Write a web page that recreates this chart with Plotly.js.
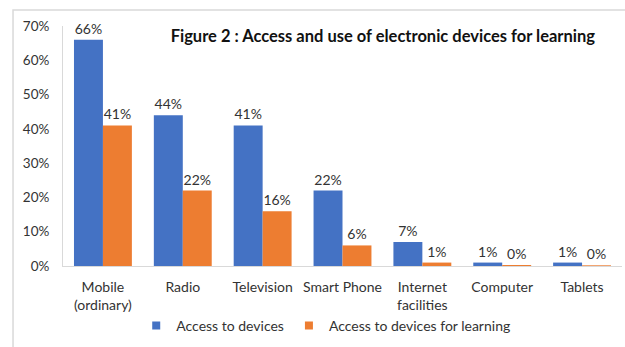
<!DOCTYPE html>
<html>
<head>
<meta charset="utf-8">
<script src="https://cdn.plot.ly/plotly-3.0.1.min.js"></script>
<style>html,body{margin:0;padding:0;background:#fff;}#chart{width:625px;height:347px;}</style>
</head>
<body>
<div id="chart"></div>
<script>
const categories = ["Mobile<br>(ordinary)", "Radio", "Television", "Smart Phone", "Internet<br>facilities", "Computer", "Tablets"];
const accessDevices = [0.66, 0.44, 0.41, 0.22, 0.07, 0.01, 0.01];
const accessLearning = [0.41, 0.22, 0.16, 0.06, 0.01, 0.003, 0.002];
const learningLabels = ["41%", "22%", "16%", "6%", "1%", "0%", "0%"];
const seriesNames = ["Access to devices", "Access to devices for learning"];
const seriesColors = ["#4472C4", "#ED7D31"];
const titleText = "Figure 2 : Access and use of electronic devices for learning";

const fontFam = "Lato, 'Open Sans', sans-serif";
const txtColor = "#333333";

const traces = [
  {
    type: "bar", x: categories, y: accessDevices, name: seriesNames[0],
    marker: {color: seriesColors[0]}, showlegend: false,
    texttemplate: "%{y:.0%}", textposition: "outside", cliponaxis: false,
    textfont: {family: fontFam, size: 14, color: txtColor}
  },
  {
    type: "bar", x: categories, y: accessLearning, name: seriesNames[1],
    marker: {color: seriesColors[1]}, showlegend: false,
    text: learningLabels, texttemplate: "%{text}", textposition: "outside", cliponaxis: false,
    textfont: {family: fontFam, size: 14, color: txtColor}
  },
  {
    type: "scatter", mode: "markers", x: [null], y: [null], name: seriesNames[0],
    marker: {color: seriesColors[0], symbol: "square", size: 8}
  },
  {
    type: "scatter", mode: "markers", x: [null], y: [null], name: seriesNames[1],
    marker: {color: seriesColors[1], symbol: "square", size: 8}
  }
];

const layout = {
  width: 625, height: 347,
  margin: {l: 63, r: 3, t: 26, b: 81},
  paper_bgcolor: "#fff", plot_bgcolor: "#fff",
  font: {family: fontFam, size: 14, color: txtColor},
  barmode: "group", bargap: 0.275, bargroupgap: 0,
  title: {
    text: "<b>" + titleText + "</b>",
    font: {family: fontFam, size: 16.5, color: "#111"},
    xref: "container", yref: "container",
    x: 0.273, xanchor: "left", y: 0.896, yanchor: "middle"
  },
  xaxis: {
    type: "category",
    showgrid: false, zeroline: false, showline: true, linecolor: "#d9d9d9", linewidth: 1,
    ticks: "", ticklabelstandoff: 8,
    tickfont: {family: fontFam, size: 14, color: txtColor}
  },
  yaxis: {
    range: [0, 0.7], dtick: 0.1, tickformat: ".0%",
    showgrid: false, zeroline: false, showline: true, linecolor: "#d9d9d9", linewidth: 1,
    ticks: "", ticklabelstandoff: 10,
    tickfont: {family: fontFam, size: 13.5, color: txtColor}
  },
  legend: {
    orientation: "h", x: 0.47, xanchor: "center", y: -0.25, yanchor: "middle",
    bgcolor: "rgba(0,0,0,0)",
    font: {family: fontFam, size: 14, color: txtColor},
    itemwidth: 30
  },
  showlegend: true,
  shapes: [
    {type: "rect", xref: "paper", yref: "paper", x0: -0.0894, x1: 1.1, y0: -0.4, y1: 1.0667,
     line: {color: "#d9d9d9", width: 1.5}, fillcolor: "rgba(0,0,0,0)", layer: "below"}
  ]
};

Plotly.newPlot("chart", traces, layout, {displayModeBar: false, staticPlot: true});
</script>
</body>
</html>
